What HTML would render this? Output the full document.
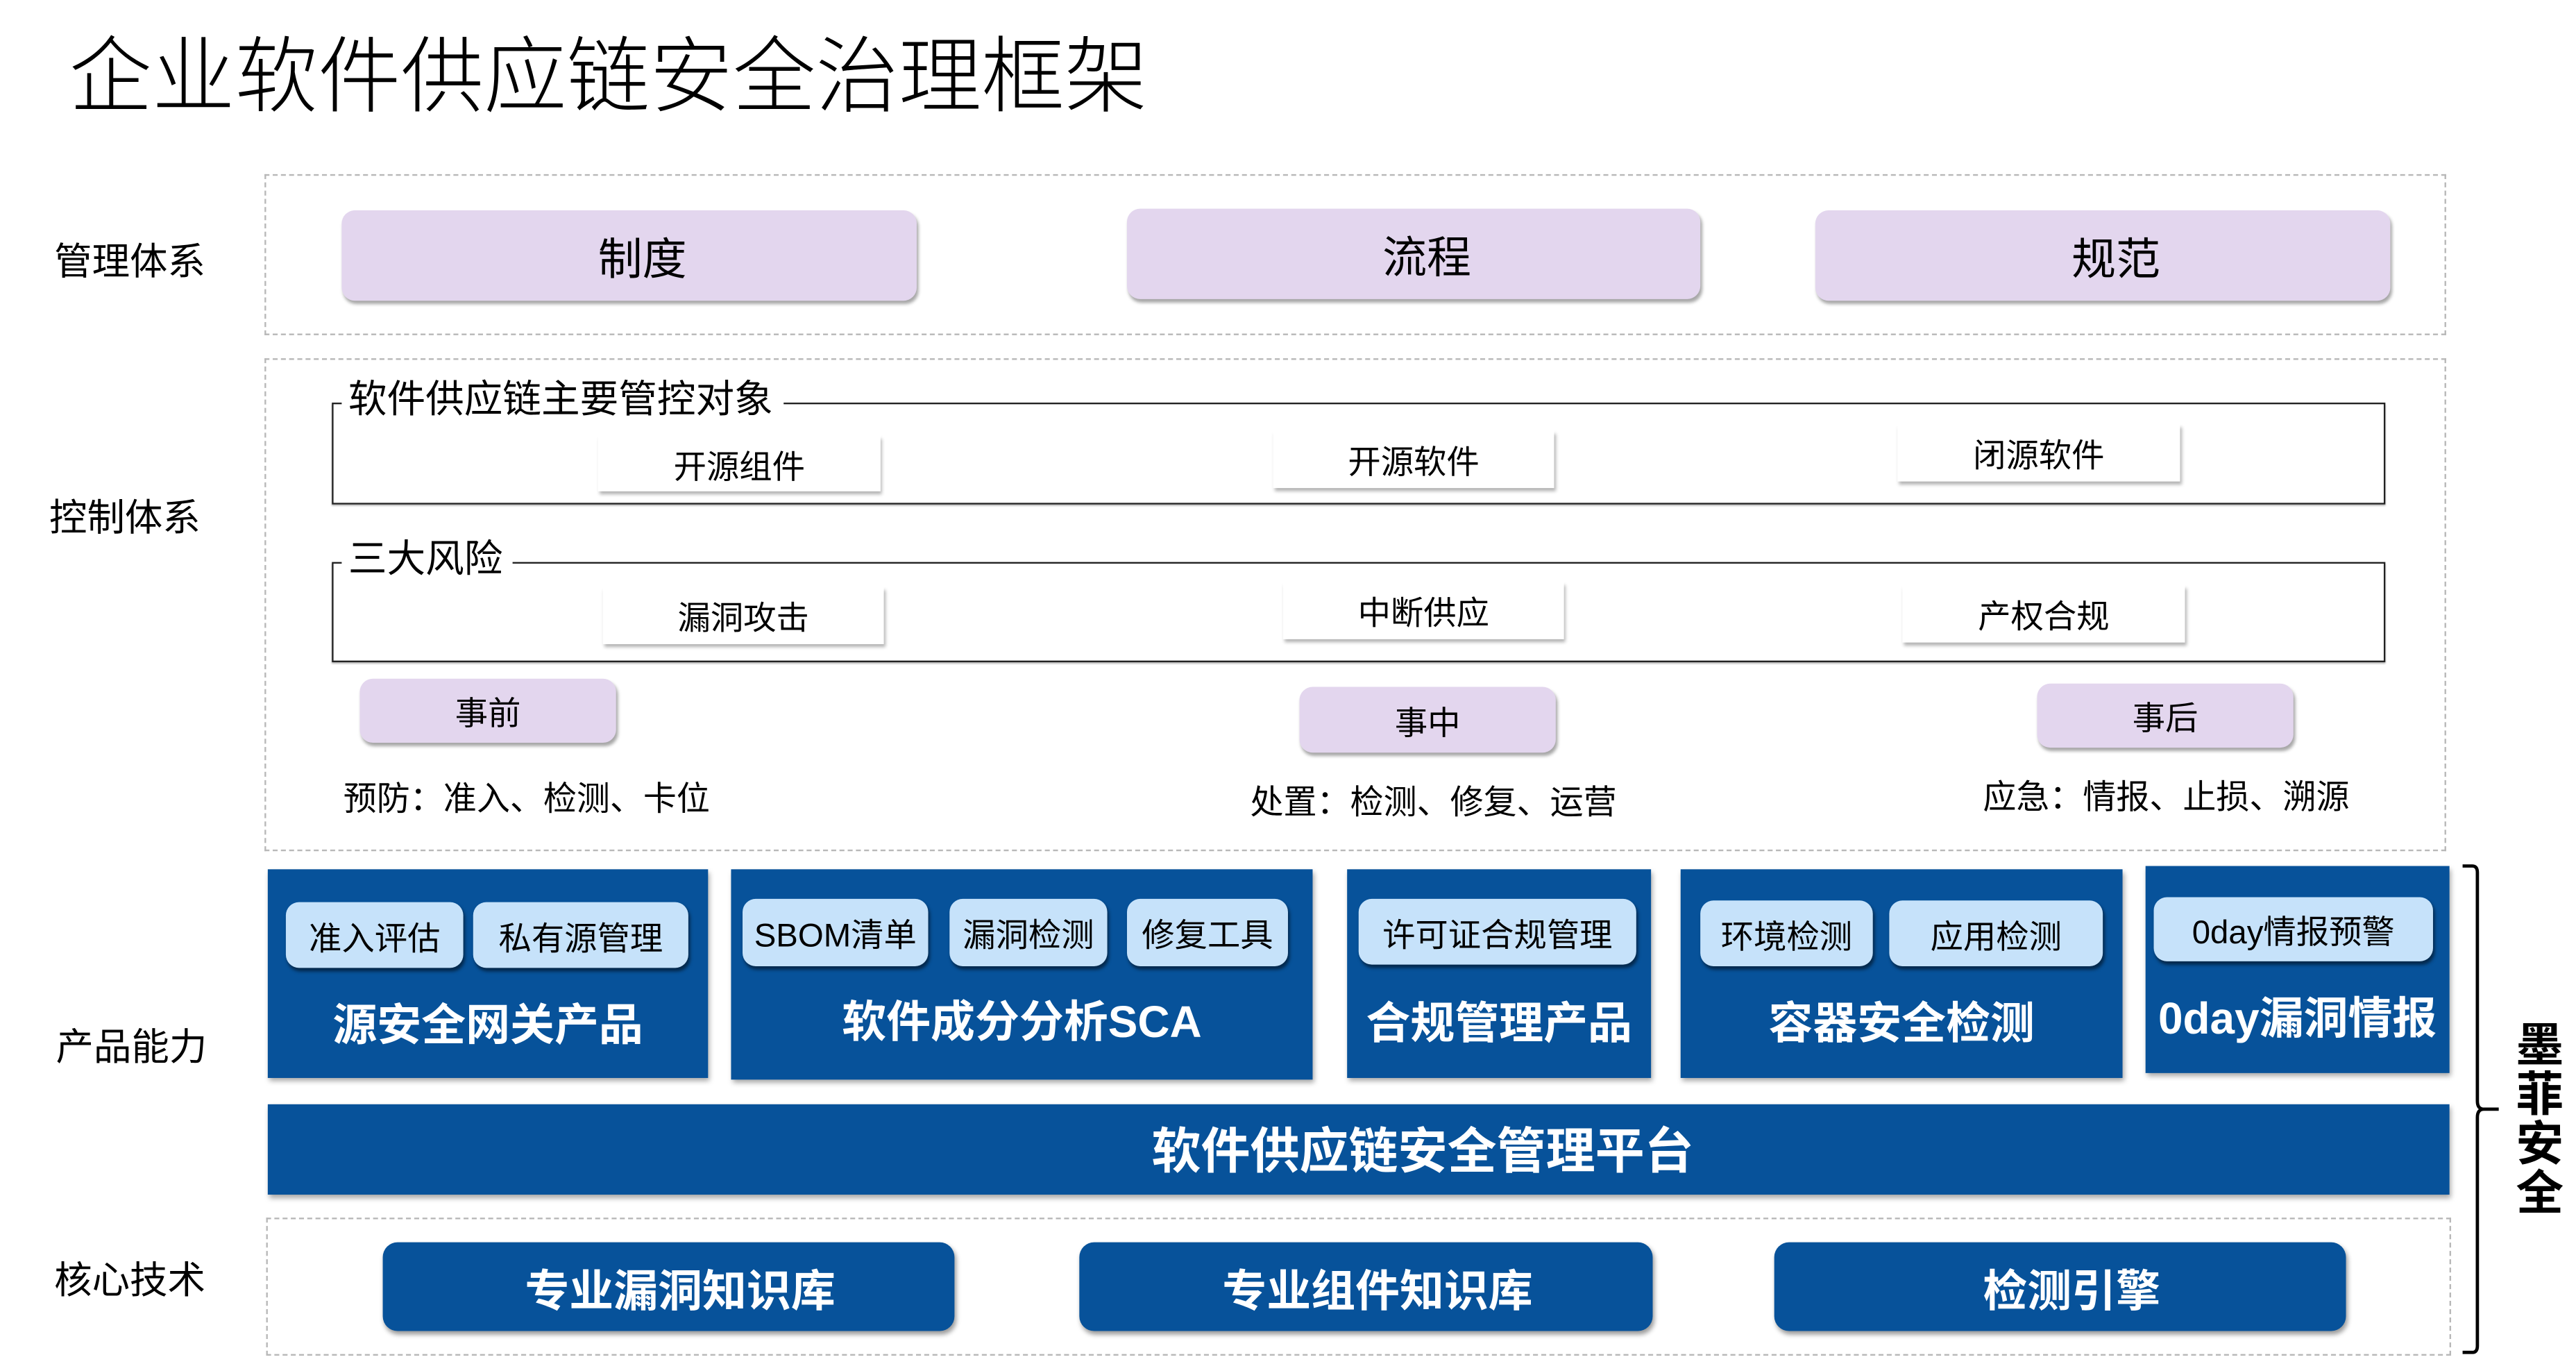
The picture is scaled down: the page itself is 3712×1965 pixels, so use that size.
<!DOCTYPE html>
<html><head><meta charset="utf-8">
<style>
html,body{margin:0;padding:0;background:#fff;}
body{width:3712px;height:1954px;overflow:hidden;position:relative;}
#s{position:absolute;left:0;top:0;width:1568px;height:826px;transform:scale(2.3673);transform-origin:0 0;font-family:"Liberation Sans","Noto Sans CJK SC",sans-serif;color:#000;}
.a{position:absolute;}
.t{position:absolute;white-space:nowrap;}
.dash{position:absolute;border:1px dashed #b8b8b8;box-sizing:border-box;}
.pur{position:absolute;background:#e3d6ee;border-radius:8px;box-shadow:1px 2px 2px rgba(0,0,0,0.35);display:flex;align-items:center;justify-content:center;box-sizing:border-box;}
.wb{position:absolute;background:#fff;box-shadow:1px 2px 2px rgba(0,0,0,0.3);display:flex;align-items:center;justify-content:center;font-size:20px;}
.grp{position:absolute;border:1.5px solid #222;box-sizing:border-box;box-shadow:0 1px 1px rgba(0,0,0,0.3);}
.gl{position:absolute;background:#fff;font-size:23.5px;padding:0 6px 0 4px;line-height:26px;}
.blue{position:absolute;background:#07529a;box-shadow:1px 2px 3px rgba(0,0,0,0.35);color:#fff;}
.lb{position:absolute;background:#c6e2fa;border-radius:8px;box-shadow:1px 2px 2px rgba(0,0,0,0.5);display:flex;align-items:center;justify-content:center;font-size:20px;color:#000;box-sizing:border-box;white-space:nowrap;}
.big{position:absolute;left:0;right:0;text-align:center;font-size:27px;color:#fff;font-weight:bold;white-space:nowrap;}
.core{position:absolute;background:#07529a;border-radius:9px;box-shadow:1px 2px 3px rgba(0,0,0,0.4);display:flex;align-items:center;justify-content:center;color:#fff;font-size:27px;font-weight:bold;box-sizing:border-box;padding-left:14px;}
.side{position:absolute;font-size:23px;}
</style></head><body>
<div id="s">
<div class="t" style="left:42px;top:5px;font-size:50.5px;font-weight:300;">企业软件供应链安全治理框架</div>

<div class="side" style="left:33px;top:140px;">管理体系</div>
<div class="side" style="left:30px;top:296px;">控制体系</div>
<div class="side" style="left:34px;top:618px;">产品能力</div>
<div class="side" style="left:33px;top:760px;">核心技术</div>

<div class="dash" style="left:161px;top:106px;width:1328px;height:98px;"></div>
<div class="pur" style="left:208px;top:128px;width:350px;height:55px;font-size:27px;padding-left:16px;">制度</div>
<div class="pur" style="left:686px;top:127px;width:349px;height:55px;font-size:27px;padding-left:16px;">流程</div>
<div class="pur" style="left:1105px;top:128px;width:350px;height:55px;font-size:27px;padding-left:16px;">规范</div>

<div class="dash" style="left:161px;top:218px;width:1328px;height:300px;"></div>
<div class="grp" style="left:202px;top:245px;width:1250px;height:62px;"></div>
<div class="gl" style="left:208px;top:230px;">软件供应链主要管控对象</div>
<div class="wb" style="left:364px;top:265px;width:172px;height:34px;">开源组件</div>
<div class="wb" style="left:775px;top:262px;width:171px;height:35px;">开源软件</div>
<div class="wb" style="left:1155px;top:258px;width:172px;height:35px;">闭源软件</div>

<div class="grp" style="left:202px;top:342px;width:1250px;height:61px;"></div>
<div class="gl" style="left:208px;top:327px;">三大风险</div>
<div class="wb" style="left:367px;top:357px;width:171px;height:35px;">漏洞攻击</div>
<div class="wb" style="left:781px;top:354px;width:171px;height:35px;">中断供应</div>
<div class="wb" style="left:1158px;top:356px;width:172px;height:35px;">产权合规</div>

<div class="pur" style="left:219px;top:413px;width:156px;height:39px;font-size:20px;">事前</div>
<div class="pur" style="left:791px;top:418px;width:156px;height:40px;font-size:20px;">事中</div>
<div class="pur" style="left:1240px;top:416px;width:156px;height:39px;font-size:20px;">事后</div>
<div class="t" style="left:209px;top:469px;font-size:20.3px;">预防：准入、检测、卡位</div>
<div class="t" style="left:761px;top:471px;font-size:20.3px;">处置：检测、修复、运营</div>
<div class="t" style="left:1207px;top:468px;font-size:20.3px;">应急：情报、止损、溯源</div>

<div class="blue" style="left:163px;top:529px;width:268px;height:127px;">
 <div class="big" style="top:73px;">源安全网关产品</div></div>
<div class="lb" style="left:174px;top:549px;width:108px;height:40px;">准入评估</div>
<div class="lb" style="left:288px;top:549px;width:131px;height:40px;">私有源管理</div>

<div class="blue" style="left:445px;top:529px;width:354px;height:128px;">
 <div class="big" style="top:71px;">软件成分分析SCA</div></div>
<div class="lb" style="left:452px;top:547px;width:113px;height:41px;">SBOM清单</div>
<div class="lb" style="left:578px;top:547px;width:96px;height:41px;">漏洞检测</div>
<div class="lb" style="left:686px;top:547px;width:98px;height:41px;">修复工具</div>

<div class="blue" style="left:820px;top:529px;width:185px;height:127px;">
 <div class="big" style="top:72px;">合规管理产品</div></div>
<div class="lb" style="left:827px;top:547px;width:169px;height:40px;">许可证合规管理</div>

<div class="blue" style="left:1023px;top:529px;width:269px;height:127px;">
 <div class="big" style="top:72px;">容器安全检测</div></div>
<div class="lb" style="left:1035px;top:548px;width:105px;height:40px;">环境检测</div>
<div class="lb" style="left:1150px;top:548px;width:130px;height:40px;">应用检测</div>

<div class="blue" style="left:1306px;top:527px;width:185px;height:126px;">
 <div class="big" style="top:71px;">0day漏洞情报</div></div>
<div class="lb" style="left:1311px;top:546px;width:170px;height:39px;">0day情报预警</div>

<div class="blue" style="left:163px;top:672px;width:1328px;height:55px;display:flex;align-items:center;justify-content:center;font-size:30px;font-weight:bold;box-sizing:border-box;padding-left:78px;padding-bottom:4px;">软件供应链安全管理平台</div>

<div class="dash" style="left:162px;top:741px;width:1330px;height:84px;"></div>
<div class="core" style="left:233px;top:756px;width:348px;height:54px;">专业漏洞知识库</div>
<div class="core" style="left:657px;top:756px;width:349px;height:54px;">专业组件知识库</div>
<div class="core" style="left:1080px;top:756px;width:348px;height:54px;">检测引擎</div>

<svg class="a" style="left:1495px;top:520px;" width="40" height="310" viewBox="0 0 40 310">
<path d="M4 7 H10 Q13 7 13 11 V150 Q13 155 17 155 H26 H17 Q13 155 13 160 V299 Q13 303 10 303 H4" fill="none" stroke="#000" stroke-width="2"/>
</svg>
<div class="a" style="left:1530px;top:622px;width:32px;font-size:29px;font-weight:bold;line-height:30px;text-align:center;">墨<br>菲<br>安<br>全</div>
</div>
</body></html>
